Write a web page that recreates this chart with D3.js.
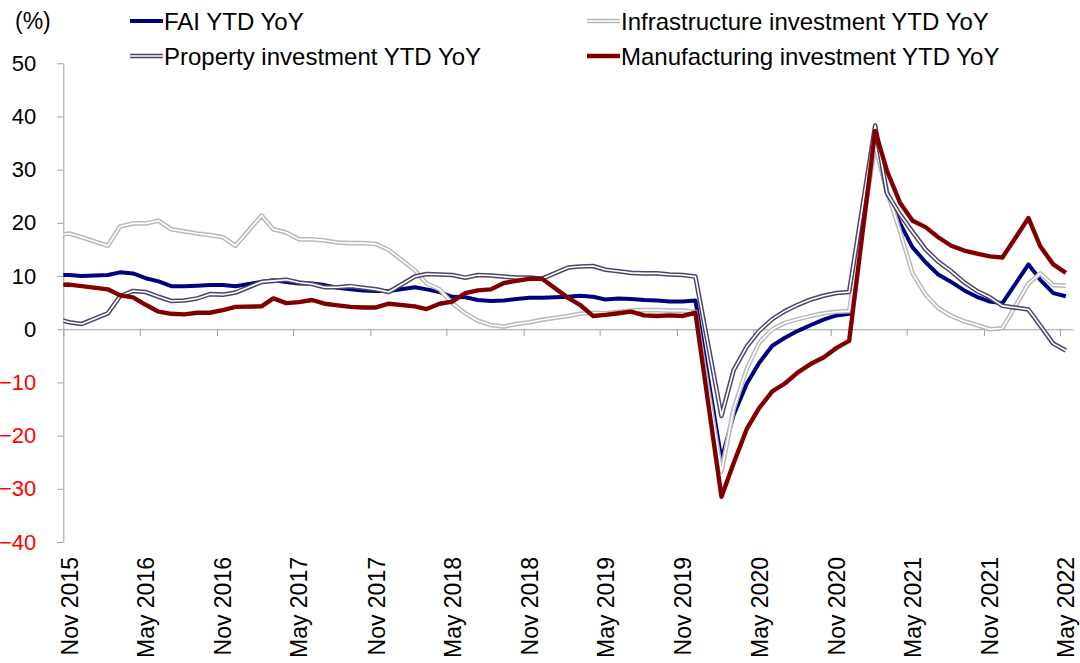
<!DOCTYPE html>
<html>
<head>
<meta charset="utf-8">
<script src="https://cdn.jsdelivr.net/npm/d3@7/dist/d3.min.js"></script>
<style>
  body { margin: 0; background: #fff; }
  text { font-family: "Liberation Sans", Arial, sans-serif; fill: #000; }
</style>
</head>
<body>
<div id="chart"></div>
<script>
// monthly readings, no January print (Jan-Feb come out together)
var months = [
  "2015-10", "2015-11", "2015-12",
  "2016-02", "2016-03", "2016-04", "2016-05", "2016-06", "2016-07", "2016-08", "2016-09", "2016-10", "2016-11", "2016-12",
  "2017-02", "2017-03", "2017-04", "2017-05", "2017-06", "2017-07", "2017-08", "2017-09", "2017-10", "2017-11", "2017-12",
  "2018-02", "2018-03", "2018-04", "2018-05", "2018-06", "2018-07", "2018-08", "2018-09", "2018-10", "2018-11", "2018-12",
  "2019-02", "2019-03", "2019-04", "2019-05", "2019-06", "2019-07", "2019-08", "2019-09", "2019-10", "2019-11", "2019-12",
  "2020-02", "2020-03", "2020-04", "2020-05", "2020-06", "2020-07", "2020-08", "2020-09", "2020-10", "2020-11", "2020-12",
  "2021-02", "2021-03", "2021-04", "2021-05", "2021-06", "2021-07", "2021-08", "2021-09", "2021-10", "2021-11", "2021-12",
  "2022-02", "2022-03", "2022-04", "2022-05"
];

var fai = [
  10.2, 10.2, 10.0,
  10.2, 10.7, 10.5, 9.6, 9.0, 8.1, 8.1, 8.2, 8.3, 8.3, 8.1,
  8.9, 9.2, 8.9, 8.6, 8.6, 8.3, 7.8, 7.5, 7.3, 7.2, 7.2,
  7.9, 7.5, 7.0, 6.1, 6.0, 5.5, 5.3, 5.4, 5.7, 5.9, 5.9,
  6.1, 6.3, 6.1, 5.6, 5.8, 5.7, 5.5, 5.4, 5.2, 5.2, 5.4,
  -24.5, -16.1, -10.3, -6.3, -3.1, -1.6, -0.3, 0.8, 1.8, 2.6, 2.9,
  35.0, 25.6, 19.9, 15.4, 12.6, 10.3, 8.9, 7.3, 6.1, 5.2, 4.9,
  12.2, 9.3, 6.8, 6.2
];

var infra = [
  17.6, 18.0, 17.3,
  15.7, 19.3, 19.9, 19.9, 20.4, 18.8, 18.4, 18.0, 17.7, 17.3, 15.7,
  21.4, 18.8, 18.2, 16.9, 16.9, 16.7, 16.3, 16.2, 16.2, 16.0, 14.9,
  11.1, 8.6, 7.5, 4.9, 3.0, 1.6, 0.8, 0.5, 1.0, 1.3, 1.8,
  2.5, 2.9, 3.1, 3.0, 3.3, 3.5, 3.6, 3.6, 3.5, 3.5, 3.3,
  -26.8, -15.0, -7.5, -2.5, 0.0, 1.2, 1.9, 2.5, 3.0, 3.3, 3.4,
  34.5, 26.0, 18.4, 10.5, 6.5, 4.0, 2.5, 1.5, 0.8, 0.0, 0.2,
  8.6, 10.5, 8.3, 8.2
];

var property = [
  2.0, 1.3, 1.0,
  3.0, 6.2, 7.2, 7.0, 6.1, 5.3, 5.4, 5.8, 6.6, 6.5, 6.9,
  8.9, 9.1, 9.3, 8.8, 8.5, 7.9, 7.9, 8.1, 7.8, 7.5, 7.0,
  9.9, 10.4, 10.3, 10.2, 9.7, 10.2, 10.1, 9.9, 9.7, 9.7, 9.5,
  11.6, 11.8, 11.9, 11.2, 10.9, 10.6, 10.5, 10.5, 10.3, 10.2, 9.9,
  -16.3, -7.7, -3.3, -0.3, 1.9, 3.4, 4.6, 5.6, 6.3, 6.8, 7.0,
  38.3, 25.6, 21.6, 18.3, 15.0, 12.7, 10.9, 8.8, 7.2, 6.0, 4.4,
  3.7, 0.7, -2.7, -4.0
];

var manufacturing = [
  8.3, 8.4, 8.1,
  7.5, 6.4, 6.0, 4.6, 3.3, 2.9, 2.8, 3.1, 3.1, 3.6, 4.2,
  4.3, 5.8, 4.9, 5.1, 5.5, 4.8, 4.5, 4.2, 4.1, 4.1, 4.8,
  4.3, 3.8, 4.8, 5.2, 6.8, 7.3, 7.5, 8.7, 9.1, 9.5, 9.5,
  5.9, 4.6, 2.5, 2.7, 3.0, 3.3, 2.6, 2.5, 2.6, 2.5, 3.1,
  -31.5, -25.2, -18.8, -14.8, -11.7, -10.2, -8.1, -6.5, -5.3, -3.5, -2.2,
  37.3, 29.8, 23.8, 20.4, 19.2, 17.3, 15.7, 14.8, 14.2, 13.7, 13.5,
  20.9, 15.6, 12.2, 10.6
];

var tickLabels = ["Nov 2015", "May 2016", "Nov 2016", "May 2017", "Nov 2017", "May 2018", "Nov 2018",
                  "May 2019", "Nov 2019", "May 2020", "Nov 2020", "May 2021", "Nov 2021", "May 2022"];
var yTicks = [-40, -30, -20, -10, 0, 10, 20, 30, 40, 50];

var width = 1080, height = 663;

var svg = d3.select("#chart").append("svg")
    .attr("width", width)
    .attr("height", height);

var parseMonth = d3.timeParse("%Y-%m");
var parseTick = d3.timeParse("%b %Y");

////// scales //////
var x = d3.scaleTime()
    .domain([parseTick("Nov 2015"), parseTick("Jun 2022")])
    .range([63.3, 1073]);
var y = d3.scaleLinear()
    .domain([-40, 50])
    .range([542, 63.3]);

// values are plotted in the middle of their month
function midMonth(m) {
  return d3.timeDay.offset(parseMonth(m), 14);
}

svg.append("clipPath").attr("id", "plotClip")
  .append("rect")
    .attr("x", 63.3).attr("y", 0)
    .attr("width", width - 63.3).attr("height", height);

////// axes //////
var yAxis = svg.append("g")
    .attr("transform", "translate(63.3,0)")
    .call(d3.axisLeft(y).tickValues(yTicks).tickSize(6).tickSizeOuter(0).tickPadding(21));
yAxis.select(".domain").attr("stroke", "#a0a0a0");
yAxis.selectAll(".tick line").attr("stroke", "#a0a0a0");
yAxis.selectAll(".tick text")
    .attr("font-family", "Liberation Sans, Arial, sans-serif")
    .attr("font-size", 22)
    .style("fill", function(d) { return d < 0 ? "#ff0000" : "#000"; });

var tickDates = tickLabels.map(function(t) { return parseTick(t); });

var xAxis = svg.append("g")
    .attr("transform", "translate(0," + y(0) + ")")
    .call(d3.axisBottom(x).tickValues(tickDates).tickSize(7).tickSizeOuter(0).tickFormat(""));
xAxis.select(".domain").attr("stroke", "#a0a0a0");
xAxis.selectAll(".tick line").attr("stroke", "#a0a0a0");

svg.append("g")
  .selectAll("text")
  .data(tickLabels)
  .join("text")
    .attr("transform", function(d) { return "translate(" + (x(parseTick(d)) + 6) + ",557) rotate(-90)"; })
    .attr("text-anchor", "end")
    .attr("dy", "0.36em")
    .attr("font-size", 23)
    .text(function(d) { return d; });

svg.append("text")
    .attr("x", 15).attr("y", 21)
    .attr("dy", "0.36em")
    .attr("font-size", 23)
    .text("(%)");

////// series //////
var series = [
  { name: "FAI YTD YoY", values: fai, color: "#000080", width: 4 },
  { name: "Infrastructure investment YTD YoY", values: infra, color: "#b9b9b9", width: 4.6, inner: 1.6 },
  { name: "Property investment YTD YoY", values: property, color: "#4d4568", width: 4.6, inner: 1.6 },
  { name: "Manufacturing investment YTD YoY", values: manufacturing, color: "#800000", width: 4.4 }
];

var line = d3.line()
    .x(function(d, i) { return x(midMonth(months[i])); })
    .y(function(d) { return y(d); });

var lines = svg.append("g").attr("clip-path", "url(#plotClip)");

series.forEach(function(s) {
  lines.append("path")
      .attr("d", line(s.values))
      .attr("fill", "none")
      .attr("stroke", s.color)
      .attr("stroke-width", s.width)
      .attr("stroke-linejoin", "round");
  if (s.inner) {
    lines.append("path")
        .attr("d", line(s.values))
        .attr("fill", "none")
        .attr("stroke", "#fff")
        .attr("stroke-width", s.inner)
        .attr("stroke-linejoin", "round");
  }
});

////// legend //////
var legendPos = [[130, 21], [587, 21], [130, 56], [587, 56]];

var legend = svg.append("g")
  .selectAll("g")
  .data(series)
  .join("g")
    .attr("transform", function(d, i) { return "translate(" + legendPos[i][0] + "," + legendPos[i][1] + ")"; });

legend.append("line")
    .attr("x1", 0).attr("x2", 33)
    .attr("stroke", function(d) { return d.color; })
    .attr("stroke-width", function(d) { return d.width; });
legend.filter(function(d) { return d.inner; })
  .append("line")
    .attr("x1", 0).attr("x2", 33)
    .attr("stroke", "#fff")
    .attr("stroke-width", function(d) { return d.inner; });
legend.append("text")
    .attr("x", 34)
    .attr("dy", "0.36em")
    .attr("font-size", 24)
    .text(function(d) { return d.name; });
</script>
</body>
</html>
